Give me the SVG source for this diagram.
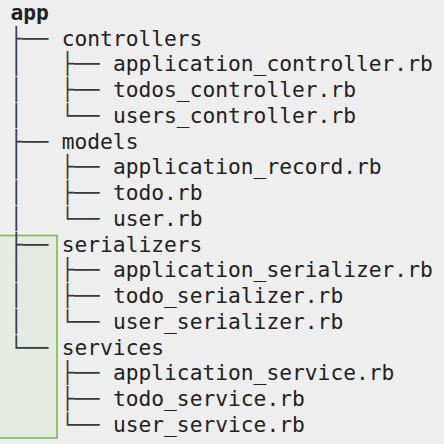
<svg xmlns="http://www.w3.org/2000/svg" width="444" height="444" viewBox="0 0 444 444">
<style>
  .t { font-family: "DejaVu Sans Mono", "Liberation Mono", monospace; font-size: 21.26px; fill: #222222; }
  .b { font-weight: bold; }
  .c { font-family: "DejaVu Sans Mono", "Liberation Mono", monospace; font-size: 21.26px; fill: #3a3a3a; }
</style>
<rect x="0" y="0" width="444" height="444" fill="#eeeeee"/>
<rect id="highlight" x="-1" y="235.5" width="58" height="202.5" fill="#e5eae3" stroke="#78b957" stroke-width="1.6"/>
<g id="connectors" class="c">
  <text x="10" y="45.55">├──</text>
  <text x="10" y="71.3">│</text><text x="61.2" y="71.3">├──</text>
  <text x="10" y="97.05">│</text><text x="61.2" y="97.05">├──</text>
  <text x="10" y="122.8">│</text><text x="61.2" y="122.8">└──</text>
  <text x="10" y="148.55">├──</text>
  <text x="10" y="174.3">│</text><text x="61.2" y="174.3">├──</text>
  <text x="10" y="200.05">│</text><text x="61.2" y="200.05">├──</text>
  <text x="10" y="225.8">│</text><text x="61.2" y="225.8">└──</text>
  <text x="10" y="251.55">├──</text>
  <text x="10" y="277.3">│</text><text x="61.2" y="277.3">├──</text>
  <text x="10" y="303.05">│</text><text x="61.2" y="303.05">├──</text>
  <text x="10" y="328.8">│</text><text x="61.2" y="328.8">└──</text>
  <text x="10" y="354.55">└──</text>
  <text x="61.2" y="380.3">├──</text>
  <text x="61.2" y="406.05">├──</text>
  <text x="61.2" y="431.8">└──</text>
</g>
<g id="node-app"><text class="t b" x="10.5" y="19.8">app</text></g>
<g id="node-controllers"><text class="t" x="61.7" y="45.55">controllers</text></g>
<g id="node-application_controller"><text class="t" x="112.9" y="71.3">application_controller.rb</text></g>
<g id="node-todos_controller"><text class="t" x="112.9" y="97.05">todos_controller.rb</text></g>
<g id="node-users_controller"><text class="t" x="112.9" y="122.8">users_controller.rb</text></g>
<g id="node-models"><text class="t" x="61.7" y="148.55">models</text></g>
<g id="node-application_record"><text class="t" x="112.9" y="174.3">application_record.rb</text></g>
<g id="node-todo"><text class="t" x="112.9" y="200.05">todo.rb</text></g>
<g id="node-user"><text class="t" x="112.9" y="225.8">user.rb</text></g>
<g id="node-serializers"><text class="t" x="61.7" y="251.55">serializers</text></g>
<g id="node-application_serializer"><text class="t" x="112.9" y="277.3">application_serializer.rb</text></g>
<g id="node-todo_serializer"><text class="t" x="112.9" y="303.05">todo_serializer.rb</text></g>
<g id="node-user_serializer"><text class="t" x="112.9" y="328.8">user_serializer.rb</text></g>
<g id="node-services"><text class="t" x="61.7" y="354.55">services</text></g>
<g id="node-application_service"><text class="t" x="112.9" y="380.3">application_service.rb</text></g>
<g id="node-todo_service"><text class="t" x="112.9" y="406.05">todo_service.rb</text></g>
<g id="node-user_service"><text class="t" x="112.9" y="431.8">user_service.rb</text></g>
</svg>
